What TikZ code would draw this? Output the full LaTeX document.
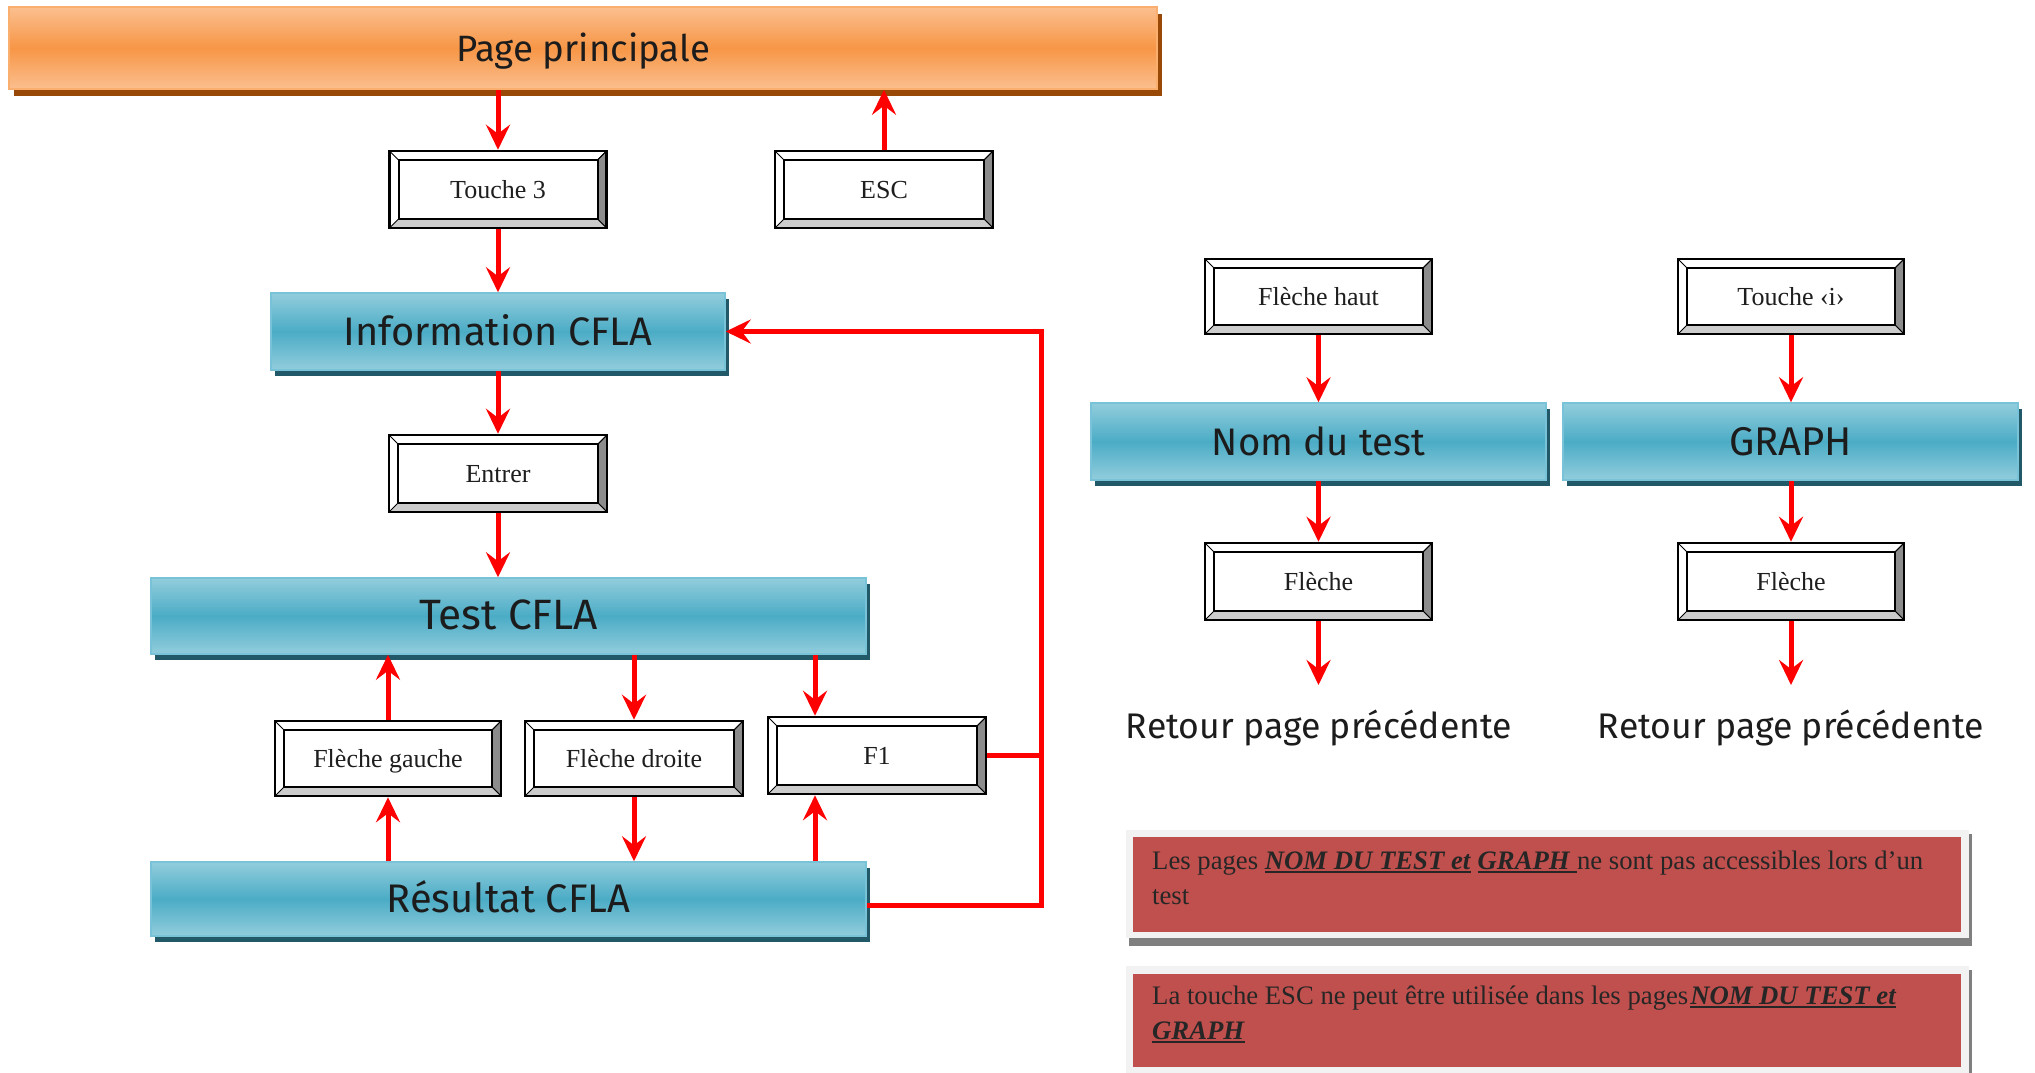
\documentclass[tikz,border=0pt]{standalone}
\usepackage{fontspec}
\usepackage{graphicx}
\setmainfont{Liberation Serif}
\newfontfamily\comicf{Fira Sans}
\usetikzlibrary{arrows.meta,calc}
\definecolor{arrred}{RGB}{255,0,0}
\definecolor{bluemid}{RGB}{75,172,198}
\definecolor{bluelt}{RGB}{146,205,220}
\definecolor{blueedge}{RGB}{120,195,215}
\definecolor{blueshadow}{RGB}{33,89,104}
\definecolor{orgmid}{RGB}{247,150,70}
\definecolor{orglt}{RGB}{251,191,143}
\definecolor{orgedge}{RGB}{250,175,110}
\definecolor{orgshadow}{RGB}{152,72,7}
\definecolor{notered}{RGB}{192,80,77}
\definecolor{notegray}{RGB}{242,242,242}
\definecolor{noteshadow}{RGB}{127,127,127}
\definecolor{keydark}{RGB}{140,140,140}
\definecolor{keylight}{RGB}{204,204,204}
\definecolor{keytext}{RGB}{30,30,30}
\definecolor{titletext}{RGB}{28,28,28}
\definecolor{notetextc}{RGB}{38,38,38}
\newsavebox\myulbox
\newcommand\myul[1]{\sbox\myulbox{#1}\rlap{\rule[-4pt]{\wd\myulbox}{2.5pt}}\usebox\myulbox}
\newcommand\ttltext[2]{\resizebox{#1pt}{!}{\comicf #2}}
\begin{document}
\begin{tikzpicture}[x=1pt,y=-1pt,
  arr/.style={draw=arrred, line width=5pt, -{Stealth[length=25pt,width=24pt,inset=9pt]}},
  redline/.style={draw=arrred, line width=5pt},
  keybox/.style={rectangle, draw=black, line width=2.5pt, fill=white, inner sep=0pt, text=keytext,
    font=\fontsize{26}{30}\selectfont, text height=17pt, text depth=0pt,
    path picture={
      \coordinate (pnw) at (path picture bounding box.north west);
      \coordinate (pne) at (path picture bounding box.north east);
      \coordinate (psw) at (path picture bounding box.south west);
      \coordinate (pse) at (path picture bounding box.south east);
      \coordinate (inw) at ($(pnw)+(9pt,-9pt)$);
      \coordinate (ine) at ($(pne)+(-9pt,-9pt)$);
      \coordinate (isw) at ($(psw)+(9pt,9pt)$);
      \coordinate (ise) at ($(pse)+(-9pt,9pt)$);
      \filldraw[fill=keydark, draw=black, line width=1pt] (pne) -- (pse) -- (ise) -- (ine) -- cycle;
      \filldraw[fill=keylight, draw=black, line width=1pt] (psw) -- (pse) -- (ise) -- (isw) -- cycle;
      \draw[line width=1pt] (pnw) -- (inw) (pne) -- (ine);
      \draw[line width=2pt] (inw) rectangle (ise);
    }},
  bluebar/.style={rectangle, draw=blueedge, line width=1.5pt, top color=bluelt, bottom color=bluelt,
    middle color=bluemid, inner sep=0pt, text height=27pt, text depth=0pt, text=titletext,
    preaction={fill=blueshadow, draw=none, transform canvas={xshift=4pt, yshift=-6pt}}},
  orangebar/.style={rectangle, draw=orgedge, line width=1.5pt, top color=orglt, bottom color=orglt,
    middle color=orgmid, inner sep=0pt, text height=27pt, text depth=0pt, text=titletext,
    preaction={fill=orgshadow, draw=none, transform canvas={xshift=5pt, yshift=-7pt}}},
  ttl/.style={inner sep=0pt, text=titletext},
  notebox/.style={rectangle, fill=notered, draw=none, inner sep=0pt},
  notetext/.style={align=left, inner sep=0pt, text=notetextc, font=\fontsize{26.7}{35}\selectfont}
]
\fill[white] (0,0) rectangle (2035,1072);
\useasboundingbox (0,0) rectangle (2035,1072);

% left part
\node[orangebar, minimum width=1148pt, minimum height=82pt] (page) at (583,48) {\ttltext{254}{Page principale}};
\node[keybox, minimum width=217pt, minimum height=77pt] (t3) at (498,189.5) {Touche 3};
\node[keybox, minimum width=218pt, minimum height=77pt] (esc) at (884,189.5) {ESC};
\node[bluebar, minimum width=454pt, minimum height=77pt] (info) at (498,331.5) {\ttltext{309}{Information CFLA}};
\node[keybox, minimum width=218pt, minimum height=77pt] (entrer) at (498,473.5) {Entrer};
\node[bluebar, minimum width=715pt, minimum height=76pt] (test) at (508.5,616) {\ttltext{179}{Test CFLA}};
\node[keybox, minimum width=226pt, minimum height=75pt] (fg) at (388,758.5) {Flèche gauche};
\node[keybox, minimum width=218pt, minimum height=75pt] (fd) at (634,758.5) {Flèche droite};
\node[keybox, minimum width=218pt, minimum height=77pt] (f1) at (877,755.5) {F1};
\node[bluebar, minimum width=715pt, minimum height=74pt] (res) at (508.5,899) {\ttltext{244}{Résultat CFLA}};

% right part
\node[keybox, minimum width=227pt, minimum height=75pt] (fh) at (1318.5,296.5) {Flèche haut};
\node[keybox, minimum width=226pt, minimum height=75pt] (ti) at (1791,296.5) {Touche ‹i›};
\node[bluebar, minimum width=455pt, minimum height=77pt] (nom) at (1318.5,441.5) {\ttltext{213}{Nom du test}};
\node[bluebar, minimum width=455pt, minimum height=77pt] (graph) at (1790.5,441.5) {\ttltext{123}{GRAPH}};
\node[keybox, minimum width=227pt, minimum height=77pt] (fl1) at (1318.5,581.5) {Flèche};
\node[keybox, minimum width=226pt, minimum height=77pt] (fl2) at (1791,581.5) {Flèche};
\coordinate (r1) at (1318.5,685);
\coordinate (r2) at (1791,685);
\node[ttl, anchor=base] (ret1) at (1319,738) {\ttltext{386}{Retour page précédente}};
\node[ttl, anchor=base] (ret2) at (1791,738) {\ttltext{386}{Retour page précédente}};

% connectors left
\draw[arr] (t3.north |- page.south) -- (t3.north);
\draw[arr] (esc.north) -- (esc.north |- page.south);
\draw[arr] (t3.south) -- (info.north);
\draw[arr] (info.south) -- (entrer.north);
\draw[arr] (entrer.south) -- (entrer.south |- test.north);
\draw[arr] (fg.north) -- (fg.north |- test.south);
\draw[arr] (fd.north |- test.south) -- (fd.north);
\coordinate (f1x) at (815,0);
\draw[arr] (f1x |- test.south) -- (f1x |- f1.north);
\draw[arr] (fg.south |- res.north) -- (fg.south);
\draw[arr] (fd.south) -- (fd.south |- res.north);
\draw[arr] (f1x |- res.north) -- (f1x |- f1.south);
\coordinate (loopx) at (1041,0);
\draw[arr] ([yshift=-6pt]res.east) -| (loopx |- info.east) -- (info.east);
\draw[redline] (f1.east) -- (f1.east -| loopx);

% connectors right
\draw[arr] (fh.south) -- (nom.north);
\draw[arr] (ti.south) -- (ti.south |- graph.north);
\draw[arr] (nom.south) -- (fl1.north);
\draw[arr] (fl2.north |- graph.south) -- (fl2.north);
\draw[arr] (fl1.south) -- (r1);
\draw[arr] (fl2.south) -- (r2);

% notes
\fill[noteshadow] (1129,834) rectangle (1972,946);
\fill[notegray] (1126,830) rectangle (1969,938);
\node[notebox, anchor=north west, minimum width=828pt, minimum height=95pt] (note1) at (1133,837) {};
\node[notetext, anchor=base west] (note1t) at (1152,904) {Les pages \myul{\textbf{\textit{NOM DU TEST et}}} \myul{\textbf{\textit{GRAPH }}}ne sont pas accessibles lors d’un\\test};

\fill[noteshadow] (1129,970) rectangle (1972,1080);
\fill[notegray] (1126,966) rectangle (1969,1076);
\node[notebox, anchor=north west, minimum width=828pt, minimum height=93pt] (note2) at (1133,974) {};
\node[notetext, anchor=base west] (note2t) at (1152,1039) {La touche ESC ne peut être utilisée dans les pages\hspace{2pt}\myul{\textbf{\textit{NOM DU TEST et}}}\\\myul{\textbf{\textit{GRAPH}}}};
\end{tikzpicture}
\end{document}
